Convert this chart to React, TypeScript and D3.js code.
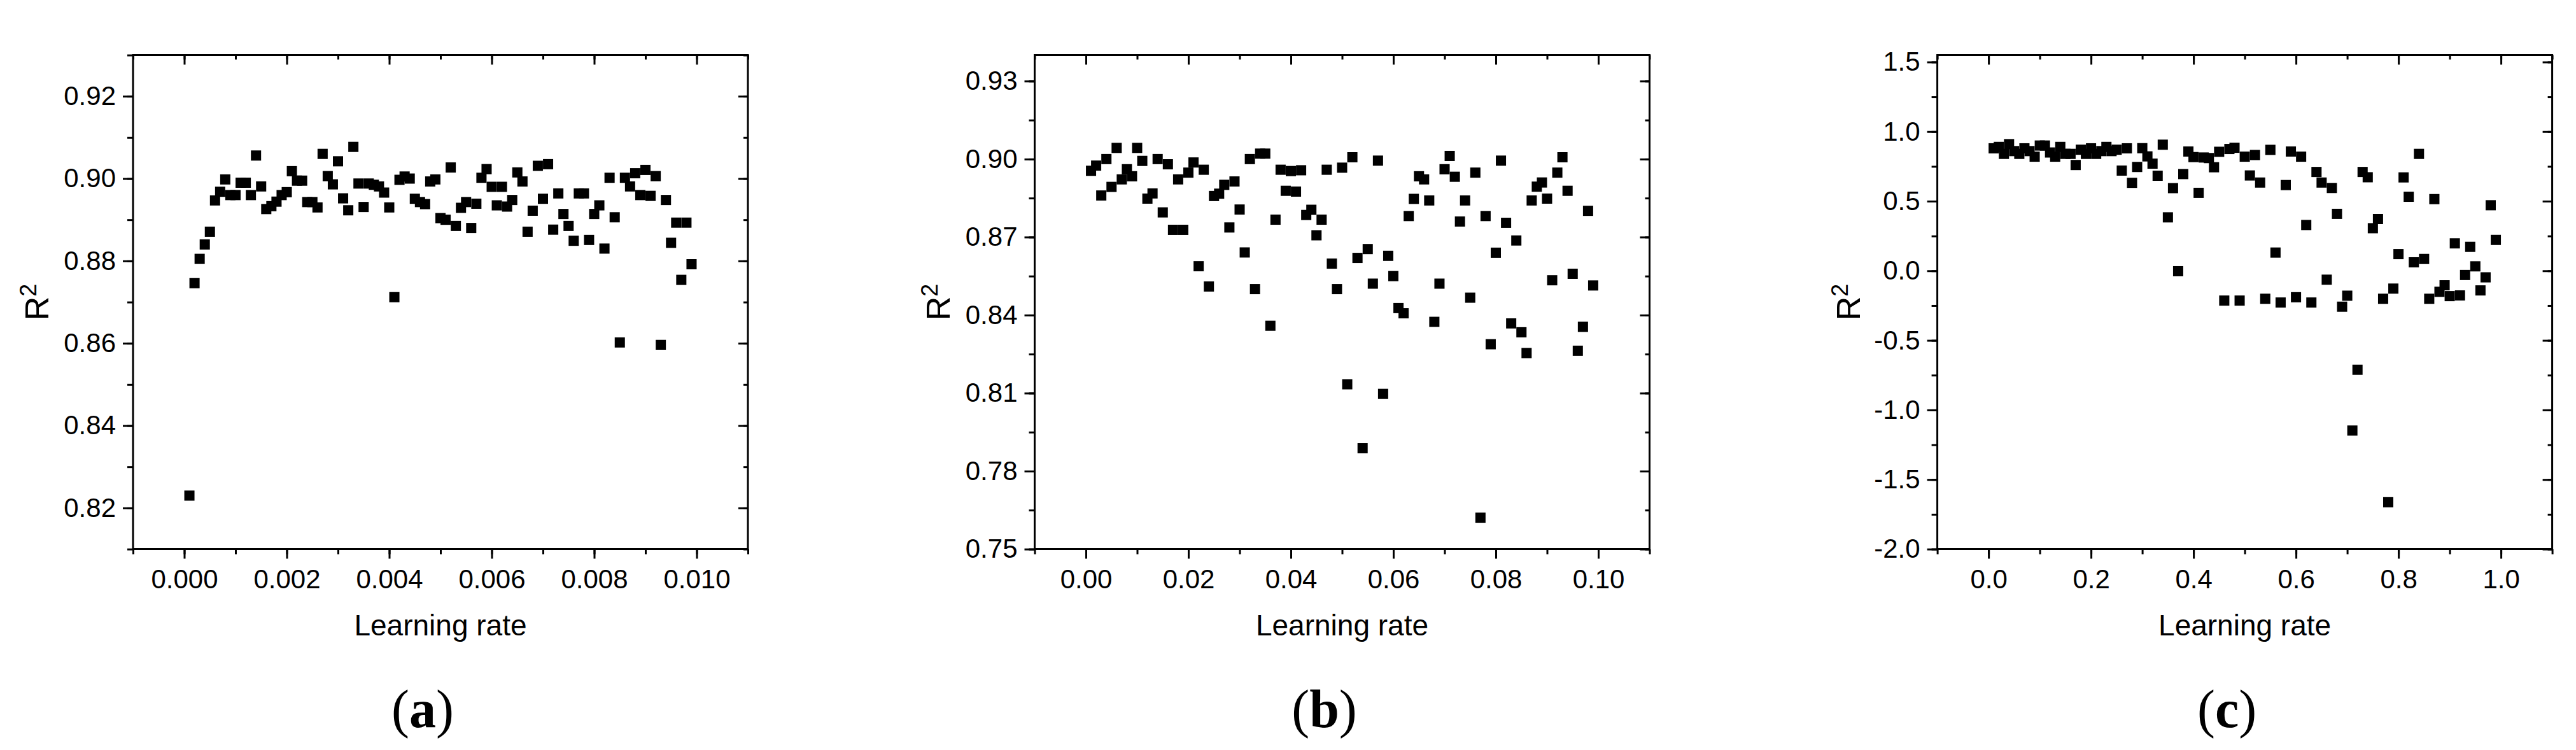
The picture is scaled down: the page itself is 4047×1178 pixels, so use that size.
import React, { useRef, useEffect } from "react";
import * as d3 from "d3";

// (a) learning rates 0.0001 .. 0.0099
const lrA = [
  0.0001, 0.0002, 0.0003, 0.0004, 0.0005, 0.0006, 0.0007, 0.0008, 0.0009, 0.001,
  0.0011, 0.0012, 0.0013, 0.0014, 0.0015, 0.0016, 0.0017, 0.0018, 0.0019, 0.002,
  0.0021, 0.0022, 0.0023, 0.0024, 0.0025, 0.0026, 0.0027, 0.0028, 0.0029, 0.003,
  0.0031, 0.0032, 0.0033, 0.0034, 0.0035, 0.0036, 0.0037, 0.0038, 0.0039, 0.004,
  0.0041, 0.0042, 0.0043, 0.0044, 0.0045, 0.0046, 0.0047, 0.0048, 0.0049, 0.005,
  0.0051, 0.0052, 0.0053, 0.0054, 0.0055, 0.0056, 0.0057, 0.0058, 0.0059, 0.006,
  0.0061, 0.0062, 0.0063, 0.0064, 0.0065, 0.0066, 0.0067, 0.0068, 0.0069, 0.007,
  0.0071, 0.0072, 0.0073, 0.0074, 0.0075, 0.0076, 0.0077, 0.0078, 0.0079, 0.008,
  0.0081, 0.0082, 0.0083, 0.0084, 0.0085, 0.0086, 0.0087, 0.0088, 0.0089, 0.009,
  0.0091, 0.0092, 0.0093, 0.0094, 0.0095, 0.0096, 0.0097, 0.0098, 0.0099,
];
const r2A = [
  0.823, 0.8746, 0.8805, 0.884, 0.8871, 0.8947, 0.8968, 0.8998, 0.896, 0.896,
  0.899, 0.899, 0.896, 0.9056, 0.8981, 0.8926, 0.8933, 0.8944, 0.896, 0.8967,
  0.9018, 0.8995, 0.8995, 0.8943, 0.8943, 0.893, 0.906, 0.9006, 0.8986, 0.9042,
  0.8952, 0.8923, 0.9077, 0.8988, 0.8931, 0.8988, 0.8985, 0.8981, 0.8966, 0.893,
  0.8712, 0.8997, 0.9005, 0.9, 0.8951, 0.8943, 0.8938, 0.8993, 0.8998, 0.8904,
  0.89, 0.9027, 0.8885, 0.8929, 0.8943, 0.888, 0.8939, 0.9002, 0.9023, 0.898,
  0.8935, 0.898, 0.8932, 0.8948, 0.9015, 0.8993, 0.8871, 0.8922, 0.9031, 0.8951,
  0.9035, 0.8876, 0.8964, 0.8914, 0.8885, 0.8849, 0.8964, 0.8964, 0.8851, 0.8914,
  0.8935, 0.883, 0.9002, 0.8906, 0.8602, 0.9002, 0.8981, 0.9013, 0.896, 0.9021,
  0.8958, 0.9006, 0.8596, 0.8948, 0.8844, 0.8893, 0.8754, 0.8893, 0.8792,
];

// (b) learning rates 0.001 .. 0.099
const lrB = [
  0.001, 0.002, 0.003, 0.004, 0.005, 0.006, 0.007, 0.008, 0.009, 0.01,
  0.011, 0.012, 0.013, 0.014, 0.015, 0.016, 0.017, 0.018, 0.019, 0.02,
  0.021, 0.022, 0.023, 0.024, 0.025, 0.026, 0.027, 0.028, 0.029, 0.03,
  0.031, 0.032, 0.033, 0.034, 0.035, 0.036, 0.037, 0.038, 0.039, 0.04,
  0.041, 0.042, 0.043, 0.044, 0.045, 0.046, 0.047, 0.048, 0.049, 0.05,
  0.051, 0.052, 0.053, 0.054, 0.055, 0.056, 0.057, 0.058, 0.059, 0.06,
  0.061, 0.062, 0.063, 0.064, 0.065, 0.066, 0.067, 0.068, 0.069, 0.07,
  0.071, 0.072, 0.073, 0.074, 0.075, 0.076, 0.077, 0.078, 0.079, 0.08,
  0.081, 0.082, 0.083, 0.084, 0.085, 0.086, 0.087, 0.088, 0.089, 0.09,
  0.091, 0.092, 0.093, 0.094, 0.095, 0.096, 0.097, 0.098, 0.099,
];
const r2B = [
  0.8955, 0.8975, 0.886, 0.9, 0.8893, 0.9043, 0.8922, 0.8961, 0.8934, 0.9043,
  0.8993, 0.8848, 0.8868, 0.9, 0.8795, 0.898, 0.8728, 0.8922, 0.8728, 0.8948,
  0.8987, 0.8588, 0.8959, 0.851, 0.8858, 0.8867, 0.8901, 0.8737, 0.8914, 0.8806,
  0.8641, 0.9, 0.85, 0.9021, 0.9021, 0.8359, 0.8767, 0.8959, 0.8878, 0.8954,
  0.8875, 0.8957, 0.8785, 0.8805, 0.8707, 0.8767, 0.8959, 0.8598, 0.85, 0.8967,
  0.8134, 0.9007, 0.862, 0.7888, 0.8654, 0.8521, 0.8994, 0.8097, 0.8628, 0.855,
  0.8427, 0.8407, 0.8781, 0.8847, 0.8934, 0.8922, 0.8841, 0.8374, 0.8521, 0.8961,
  0.9012, 0.8932, 0.876, 0.8841, 0.8467, 0.8948, 0.7621, 0.8781, 0.8288, 0.864,
  0.8994, 0.8755, 0.8368, 0.8687, 0.8334, 0.8254, 0.8841, 0.8894, 0.891, 0.8848,
  0.8534, 0.8948, 0.9007, 0.8878, 0.8559, 0.8263, 0.8355, 0.8801, 0.8514,
];

// (c) learning rates 0.01 .. 0.99
const lrC = [
  0.01, 0.02, 0.03, 0.04, 0.05, 0.06, 0.07, 0.08, 0.09, 0.1,
  0.11, 0.12, 0.13, 0.14, 0.15, 0.16, 0.17, 0.18, 0.19, 0.2,
  0.21, 0.22, 0.23, 0.24, 0.25, 0.26, 0.27, 0.28, 0.29, 0.3,
  0.31, 0.32, 0.33, 0.34, 0.35, 0.36, 0.37, 0.38, 0.39, 0.4,
  0.41, 0.42, 0.43, 0.44, 0.45, 0.46, 0.47, 0.48, 0.49, 0.5,
  0.51, 0.52, 0.53, 0.54, 0.55, 0.56, 0.57, 0.58, 0.59, 0.6,
  0.61, 0.62, 0.63, 0.64, 0.65, 0.66, 0.67, 0.68, 0.69, 0.7,
  0.71, 0.72, 0.73, 0.74, 0.75, 0.76, 0.77, 0.78, 0.79, 0.8,
  0.81, 0.82, 0.83, 0.84, 0.85, 0.86, 0.87, 0.88, 0.89, 0.9,
  0.91, 0.92, 0.93, 0.94, 0.95, 0.96, 0.97, 0.98, 0.99,
];
const r2C = [
  0.88, 0.89, 0.84, 0.91, 0.86, 0.84, 0.88, 0.86, 0.82, 0.9,
  0.9, 0.85, 0.82, 0.89, 0.84, 0.84, 0.76, 0.87, 0.84, 0.88,
  0.84, 0.86, 0.89, 0.86, 0.87, 0.72, 0.88, 0.632, 0.746, 0.881,
  0.822, 0.77, 0.683, 0.906, 0.384, 0.594, -0.003, 0.695, 0.857, 0.817,
  0.56, 0.814, 0.81, 0.744, 0.855, -0.214, 0.875, 0.884, -0.214, 0.82,
  0.685, 0.832, 0.634, -0.201, 0.869, 0.131, -0.228, 0.616, 0.857, -0.19,
  0.82, 0.329, -0.228, 0.71, 0.634, -0.064, 0.595, 0.409, -0.258, -0.179,
  -1.148, -0.711, 0.71, 0.672, 0.306, 0.372, -0.201, -1.663, -0.128, 0.12,
  0.671, 0.532, 0.061, 0.84, 0.085, -0.201, 0.515, -0.151, -0.104, -0.182,
  0.197, -0.177, -0.03, 0.172, 0.032, -0.141, -0.047, 0.471, 0.222,
];

// tick labels
const xTicksA = [0, 0.002, 0.004, 0.006, 0.008, 0.01];
const yTicksA = [0.82, 0.84, 0.86, 0.88, 0.9, 0.92];
const xTicksB = [0, 0.02, 0.04, 0.06, 0.08, 0.1];
const yTicksB = [0.75, 0.78, 0.81, 0.84, 0.87, 0.9, 0.93];
const xTicksC = [0, 0.2, 0.4, 0.6, 0.8, 1.0];
const yTicksC = [-2, -1.5, -1, -0.5, 0, 0.5, 1, 1.5];

const W = 966;
const H = 776;
const TOP = 86.5;
const SANS = "'Liberation Sans', Arial, sans-serif";

function Panel({ left, xs, ys, xDomain, yDomain, xTicks, yTicks, xStep, yStep, xDigits, yDigits, titleGap, letter }) {
  const ref = useRef(null);

  useEffect(() => {
    const g = d3.select(ref.current);
    g.selectAll("*").remove();

    const x = d3.scaleLinear().domain(xDomain).range([0, W]);
    const y = d3.scaleLinear().domain(yDomain).range([H, 0]);

    const xMinor = d3.range(xDomain[0], xDomain[1] + xStep / 2, xStep);
    const yMinor = d3.range(yTicks[0] - yStep * Math.floor((yTicks[0] - yDomain[0]) / yStep + 1e-6), yDomain[1] + 1e-9, yStep);
    const none = () => "";

    const style = (sel) => {
      sel.select(".domain").remove();
      sel.selectAll("line").attr("stroke", "#000").attr("stroke-width", 3);
      sel.attr("font-family", SANS).attr("font-size", 42);
      sel.selectAll("text").attr("fill", "#000");
    };

    // bottom
    g.append("g").attr("transform", `translate(0,${H})`)
      .call(d3.axisBottom(x).tickValues(xMinor).tickFormat(none).tickSize(8).tickSizeOuter(0)).call(style);
    g.append("g").attr("transform", `translate(0,${H})`)
      .call(d3.axisBottom(x).tickValues(xTicks).tickFormat((d) => d.toFixed(xDigits)).tickSize(15).tickPadding(17).tickSizeOuter(0))
      .call(style);
    // top (inward)
    g.append("g").call(d3.axisTop(x).tickValues(xMinor).tickFormat(none).tickSize(-7).tickSizeOuter(0)).call(style);
    g.append("g").call(d3.axisTop(x).tickValues(xTicks).tickFormat(none).tickSize(-15).tickSizeOuter(0)).call(style);
    // left
    g.append("g").call(d3.axisLeft(y).tickValues(yMinor).tickFormat(none).tickSize(9).tickSizeOuter(0)).call(style);
    g.append("g")
      .call(d3.axisLeft(y).tickValues(yTicks).tickFormat((d) => d.toFixed(yDigits)).tickSize(16).tickPadding(11).tickSizeOuter(0))
      .call(style);
    // right (inward)
    g.append("g").attr("transform", `translate(${W},0)`)
      .call(d3.axisRight(y).tickValues(yMinor).tickFormat(none).tickSize(-7).tickSizeOuter(0)).call(style);
    g.append("g").attr("transform", `translate(${W},0)`)
      .call(d3.axisRight(y).tickValues(yTicks).tickFormat(none).tickSize(-15).tickSizeOuter(0)).call(style);

    g.append("rect")
      .attr("width", W)
      .attr("height", H)
      .attr("fill", "none")
      .attr("stroke", "#000")
      .attr("stroke-width", 3);

    g.selectAll(".pt")
      .data(xs)
      .join("rect")
      .attr("class", "pt")
      .attr("x", (d) => x(d) - 8)
      .attr("y", (d, i) => y(ys[i]) - 8)
      .attr("width", 16)
      .attr("height", 16)
      .attr("fill", "#000");

    g.append("text")
      .attr("x", W / 2)
      .attr("y", 911.5)
      .attr("text-anchor", "middle")
      .attr("font-family", SANS)
      .attr("font-size", 46)
      .attr("fill", "#000")
      .text("Learning rate");

    const yt = g.append("text")
      .attr("transform", `translate(${-titleGap},${H / 2}) rotate(-90)`)
      .attr("text-anchor", "middle")
      .attr("font-family", SANS)
      .attr("fill", "#000");
    yt.append("tspan").attr("font-size", 52).text("R");
    yt.append("tspan").attr("font-size", 36).attr("dy", -19).text("2");

    const cap = g.append("text")
      .attr("x", W / 2 - 28)
      .attr("y", 1055.5)
      .attr("text-anchor", "middle")
      .attr("font-family", "'Liberation Serif', 'Times New Roman', serif")
      .attr("font-size", 84)
      .attr("fill", "#000");
    cap.append("tspan").text("(");
    cap.append("tspan").attr("font-weight", "bold").text(letter);
    cap.append("tspan").text(")");
  }, []);

  return <g ref={ref} transform={`translate(${left},${TOP})`} />;
}

export default function App() {
  return (
    <svg
      width={4047}
      height={1178}
      style={{ position: "absolute", left: 0, top: 0, background: "#fff" }}
    >
      <rect width={4047} height={1178} fill="#fff" />
      <Panel left={209} xs={lrA} ys={r2A} xDomain={[-0.001, 0.011]} yDomain={[0.81, 0.93]}
        xTicks={xTicksA} yTicks={yTicksA} xStep={0.001} yStep={0.01} xDigits={3} yDigits={2}
        titleGap={133} letter="a" />
      <Panel left={1625.5} xs={lrB} ys={r2B} xDomain={[-0.01, 0.11]} yDomain={[0.75, 0.94]}
        xTicks={xTicksB} yTicks={yTicksB} xStep={0.01} yStep={0.015} xDigits={2} yDigits={2}
        titleGap={133.5} letter="b" />
      <Panel left={3043.6} xs={lrC} ys={r2C} xDomain={[-0.1, 1.1]} yDomain={[-2.0, 1.55]}
        xTicks={xTicksC} yTicks={yTicksC} xStep={0.1} yStep={0.25} xDigits={1} yDigits={1}
        titleGap={122} letter="c" />
    </svg>
  );
}
